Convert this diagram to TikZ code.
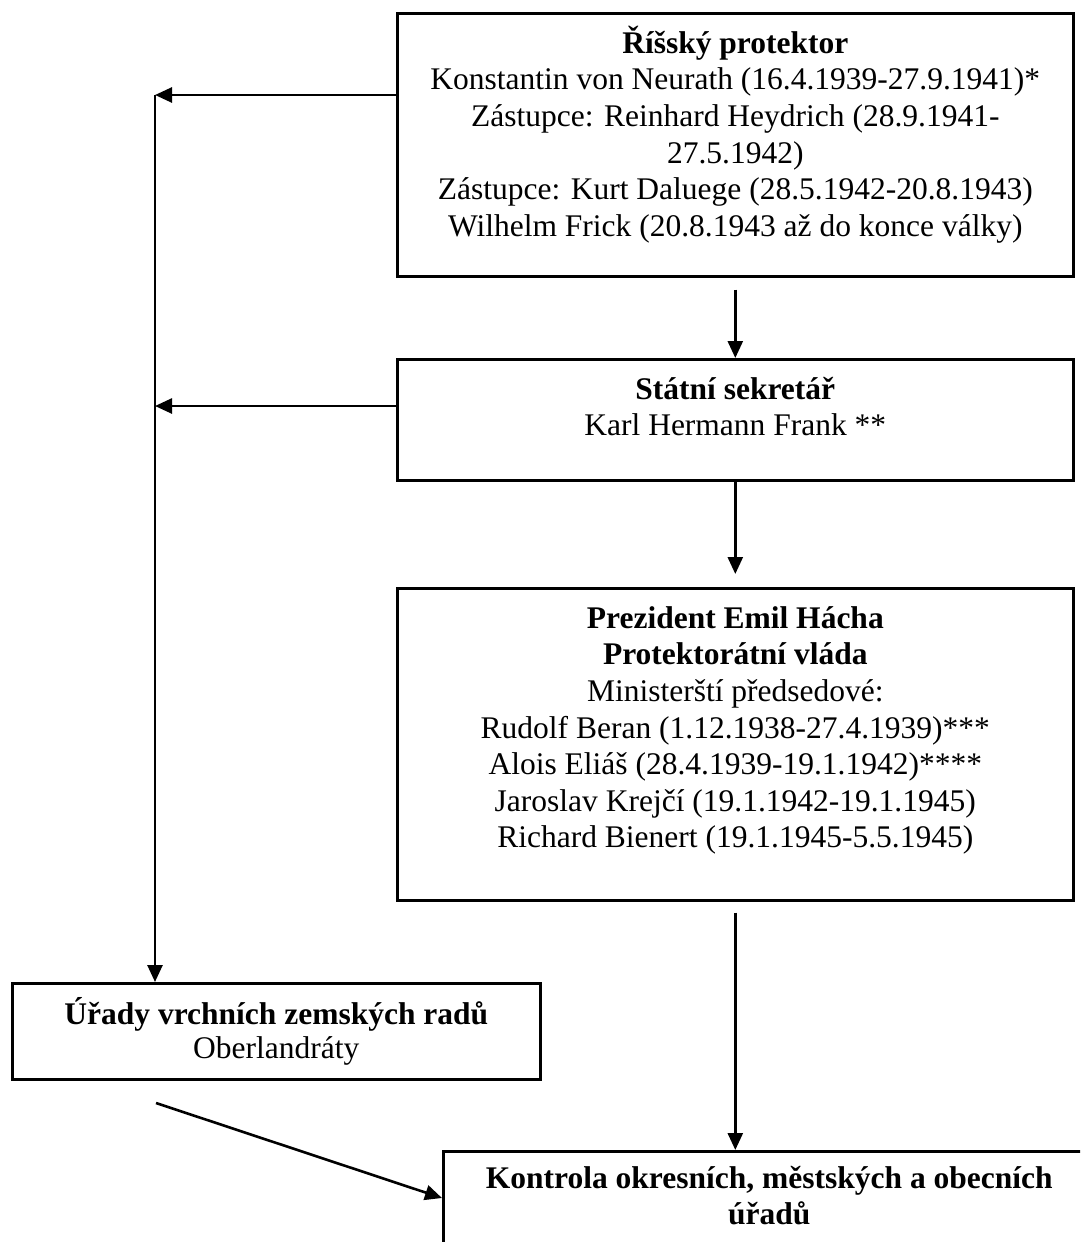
\documentclass[tikz,border=0pt]{standalone}
\usepackage{fontspec}
\setmainfont{Liberation Serif}
\usetikzlibrary{arrows.meta}
\newcommand{\boxcontent}[4]{\parbox[c][#1][t]{#2}{\centering\rule{0pt}{#3}#4}}
\begin{document}
\begin{tikzpicture}[x=1pt,y=-1pt,
  box/.style={draw, line width=2.6pt, inner sep=0pt, anchor=north west,
              font=\fontsize{31.5}{36.6}\selectfont},
  conn/.style={line width=2.6pt, -{Triangle[length=17pt,width=15pt]}}]
\clip (0,0) rectangle (1080,1242);
\fill[white] (0,0) rectangle (1080,1242);

\node[box] (A) at (396,12) {\boxcontent{263pt}{676pt}{40pt}{%
\textbf{Říšský protektor}\\
Konstantin von Neurath (16.4.1939-27.9.1941)*\\
Zástupce: Reinhard Heydrich (28.9.1941-\\
27.5.1942)\\
Zástupce: Kurt Daluege (28.5.1942-20.8.1943)\\
Wilhelm Frick (20.8.1943 až do konce války)}};

\node[box] (B) at (396,358) {\boxcontent{121pt}{676pt}{40pt}{%
\textbf{Státní sekretář}\\
Karl Hermann Frank **}};

\node[box] (C) at (396,587) {\boxcontent{312pt}{676pt}{40pt}{%
\textbf{Prezident Emil Hácha}\\
\textbf{Protektorátní vláda}\\
Ministerští předsedové:\\
Rudolf Beran (1.12.1938-27.4.1939)***\\
Alois Eliáš (28.4.1939-19.1.1942)****\\
Jaroslav Krejčí (19.1.1942-19.1.1945)\\
Richard Bienert (19.1.1945-5.5.1945)}};

\node[box] (D) at (11,982) {\boxcontent{96pt}{528pt}{41pt}{%
\textbf{Úřady vrchních zemských radů}\\[-2.6pt]
Oberlandráty}};

\node[box] (E) at (442,1150) {\boxcontent{150pt}{652pt}{37pt}{%
\textbf{Kontrola okresních, městských a obecních}\\[-0.6pt]
\textbf{úřadů}}};

\coordinate (j1) at (155,95);
\coordinate (j2) at (155,406);
\coordinate (d1) at (156,1103);

\draw[conn] (j1 -| A.west) -- (j1);
\draw[conn] (j2 -| B.west) -- (j2);
\draw[conn] (j1) -- (j1 |- D.north);
\draw[conn] ([yshift=-12pt]A.south) -- (B.north);
\draw[conn] (B.south) -- ([yshift=13pt]C.north);
\draw[conn] ([yshift=-11pt]C.south) -- (C.south |- E.north);
\draw[conn] (d1) -- ([yshift=-48pt]E.north west);
\end{tikzpicture}
\end{document}
